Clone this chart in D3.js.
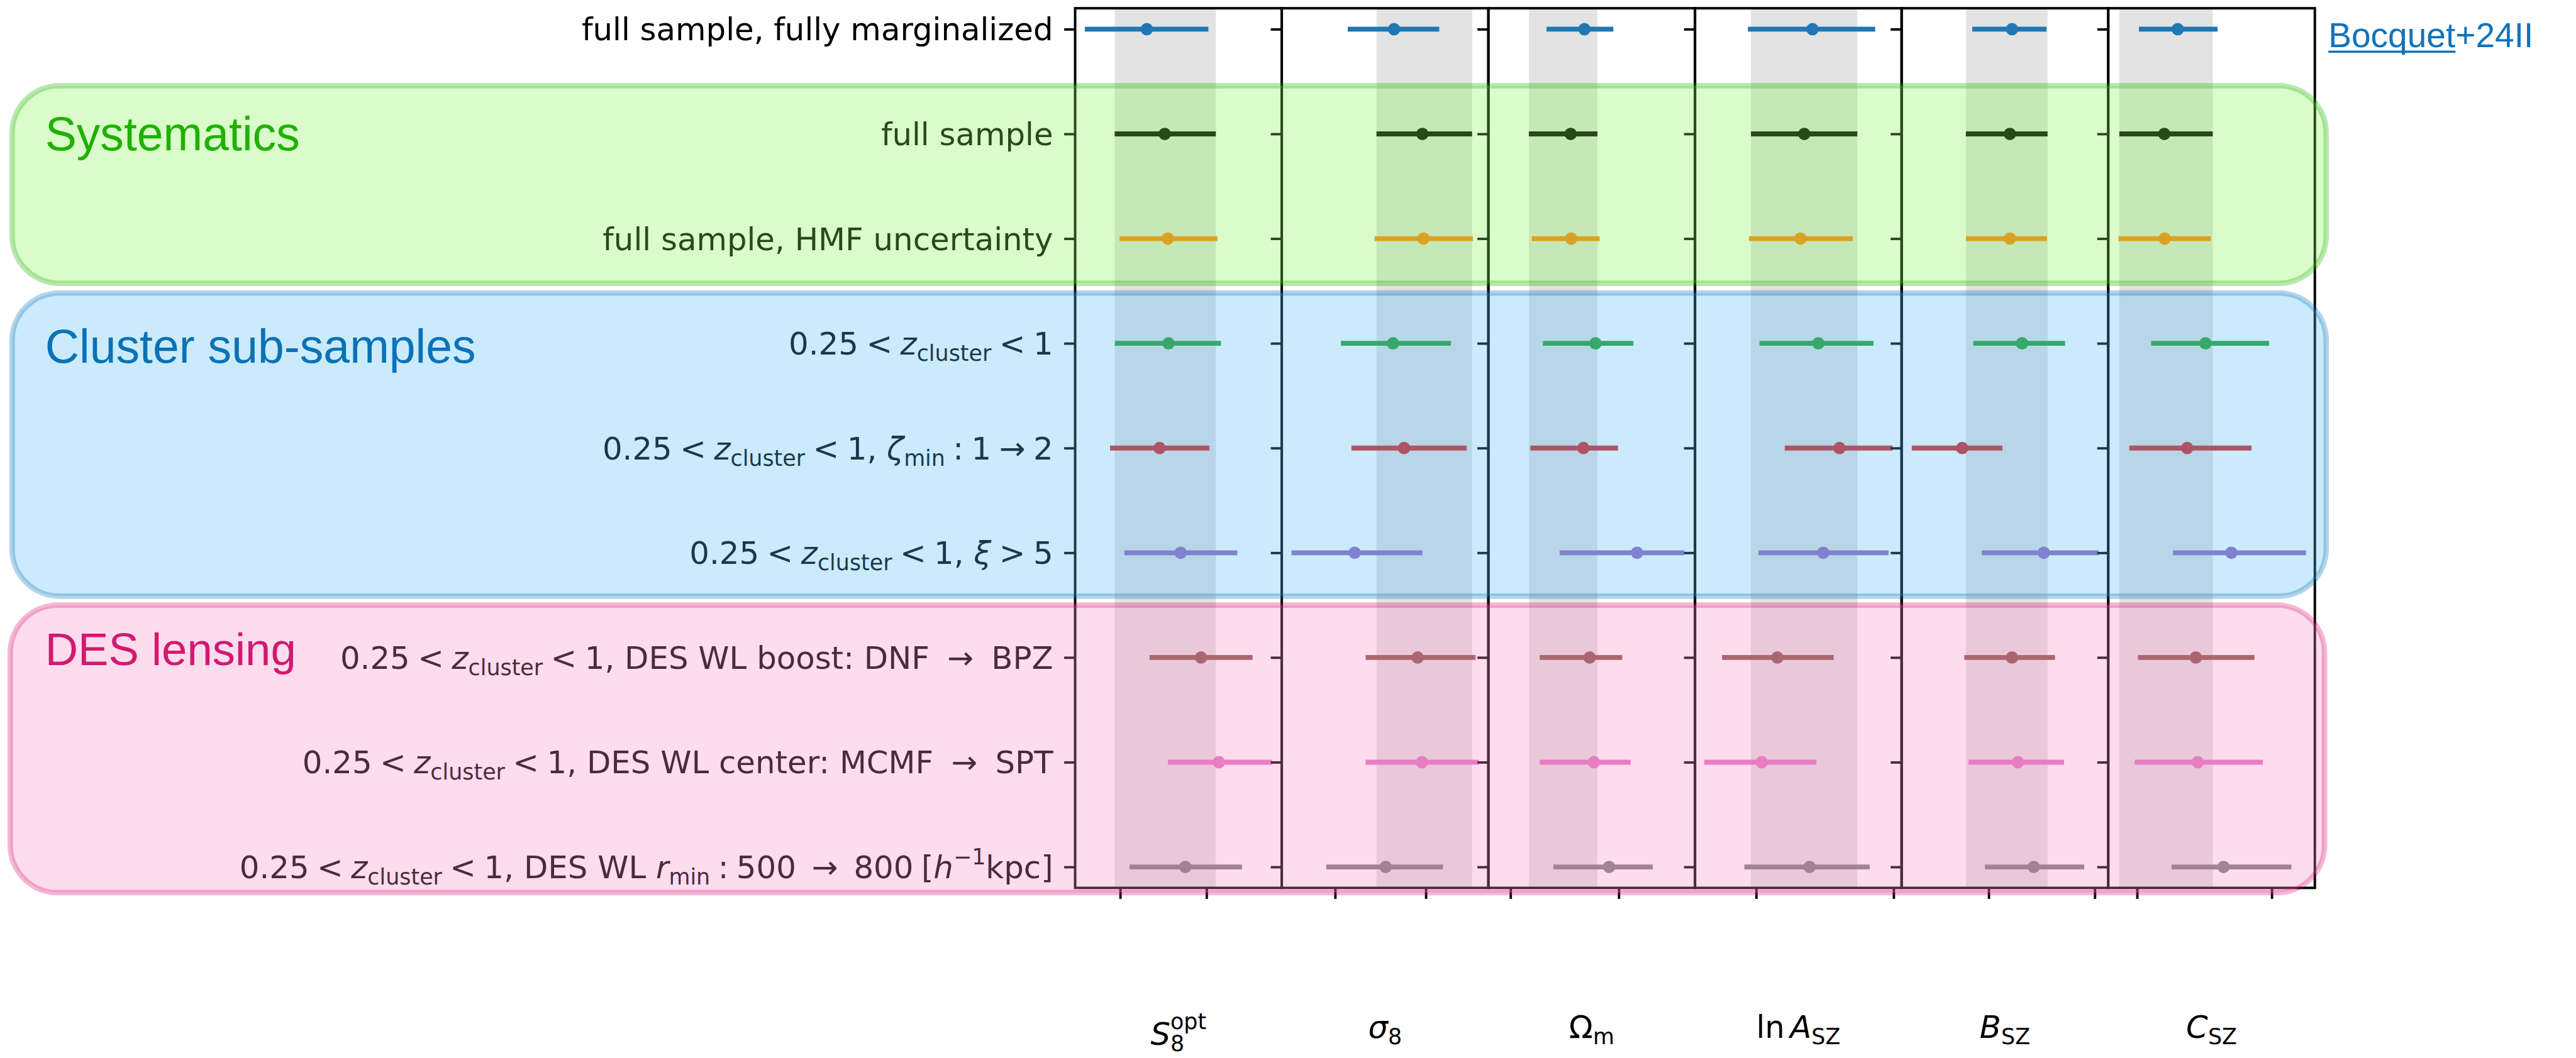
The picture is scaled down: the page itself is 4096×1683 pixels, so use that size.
<!DOCTYPE html>
<html>
<head>
<meta charset="utf-8">
<script src="https://cdn.jsdelivr.net/npm/d3@7"></script>
<style>
  html, body { margin: 0; padding: 0; background: #fff; }
  svg { display: block; }
</style>
</head>
<body>
<script>
// ---- data -------------------------------------------------------------
// one row per analysis variant, top to bottom
const rowColors = ["#1f77b4", "#000000", "#ff7f0e", "#2ca02c", "#d62728",
                   "#9467bd", "#8c564b", "#e377c2", "#7f7f7f"];

// each entry: [lower 68% bound, best fit, upper 68% bound]
const S8opt = [[0.7295, 0.7654, 0.8011], [0.7468, 0.7758, 0.8054], [0.7496, 0.7776, 0.8063],
               [0.7469, 0.7780, 0.8084], [0.7441, 0.7728, 0.8017], [0.7524, 0.7850, 0.8179],
               [0.7670, 0.7968, 0.8267], [0.7776, 0.8072, 0.8380], [0.7554, 0.7877, 0.8206]];
const sigma8 = [[0.7139, 0.7650, 0.8148], [0.7456, 0.7962, 0.8510], [0.7435, 0.7975, 0.8519],
                [0.7064, 0.7638, 0.8276], [0.7180, 0.7760, 0.8450], [0.6519, 0.7215, 0.7962],
                [0.7336, 0.7910, 0.8548], [0.7336, 0.7957, 0.8583], [0.6902, 0.7557, 0.8189]];
const OmegaM = [[0.2333, 0.2683, 0.2950], [0.2170, 0.2556, 0.2803], [0.2197, 0.2561, 0.2823],
                [0.2299, 0.2785, 0.3135], [0.2183, 0.2673, 0.2993], [0.2454, 0.3169, 0.3605],
                [0.2270, 0.2731, 0.3032], [0.2270, 0.2770, 0.3110], [0.2396, 0.2911, 0.3314]];
const lnASZ  = [[1.470, 1.705, 1.933], [1.481, 1.675, 1.868], [1.474, 1.661, 1.851],
                [1.512, 1.726, 1.927], [1.604, 1.803, 1.996], [1.508, 1.744, 1.982],
                [1.376, 1.577, 1.782], [1.311, 1.520, 1.719], [1.457, 1.694, 1.913]];
const BSZ    = [[1.569, 1.644, 1.709], [1.557, 1.640, 1.711], [1.557, 1.640, 1.710],
                [1.571, 1.663, 1.744], [1.455, 1.550, 1.626], [1.587, 1.704, 1.807],
                [1.554, 1.644, 1.725], [1.562, 1.655, 1.742], [1.593, 1.685, 1.780]];
const CSZ    = [[0.507, 0.651, 0.799], [0.434, 0.601, 0.781], [0.431, 0.602, 0.774],
                [0.552, 0.754, 0.990], [0.471, 0.686, 0.925], [0.633, 0.850, 1.127],
                [0.503, 0.718, 0.936], [0.491, 0.725, 0.967], [0.628, 0.821, 1.073]];

const panelData = [S8opt, sigma8, OmegaM, lnASZ, BSZ, CSZ];
const baselineRow = 1;   // "full sample": its 68% interval is shaded in every panel

// axis limits and (unlabelled) tick values per panel
const xDomains = [[0.72389, 0.84360], [0.64115, 0.86897], [0.17959, 0.37040],
                  [1.2774, 2.0292], [1.43585, 1.82538], [0.39286, 1.16000]];
const xTicks = [[0.75, 0.80], [0.7, 0.8], [0.2, 0.3], [1.5, 2.0], [1.6, 1.8], [0.5, 1.0]];

// rich-text pieces: i = italic, sub / sup = sub- and superscript
const SP = "\u2005";
const ARROW = SP + SP + "\u2192" + SP + SP;
const zRange = [{t: "0.25" + SP + "<" + SP}, {t: "z", i: 1}, {t: "cluster", sub: 1}, {t: SP + "<" + SP + "1"}];
const rowLabels = [
  [{t: "full sample, fully marginalized"}],
  [{t: "full sample"}],
  [{t: "full sample, HMF uncertainty"}],
  zRange,
  [...zRange, {t: ", "}, {t: "\u03b6", i: 1}, {t: "min", sub: 1}, {t: SP + ":" + SP + "1" + SP + "\u2192" + SP + "2"}],
  [...zRange, {t: ", "}, {t: "\u03be", i: 1}, {t: SP + ">" + SP + "5"}],
  [...zRange, {t: ", DES WL boost: DNF " + SP + "\u2192" + SP + " BPZ"}],
  [...zRange, {t: ", DES WL center: MCMF " + SP + "\u2192" + SP + " SPT"}],
  [...zRange, {t: ", DES WL "}, {t: "r", i: 1}, {t: "min", sub: 1},
   {t: SP + ":" + SP + "500" + ARROW + "800" + SP + "["}, {t: "h", i: 1}, {t: "\u22121", sup: 1}, {t: "kpc]"}]
];

const columnLabels = [
  [{t: "S", i: 1}, {t: "8", sub: 1, low: 0.2}, {t: "opt", sup: 1, high: 0.5, back: 1}],
  [{t: "\u03c3", i: 1}, {t: "8", sub: 1}],
  [{t: "\u03a9"}, {t: "m", sub: 1}],
  [{t: "ln\u2006"}, {t: "A", i: 1}, {t: "SZ", sub: 1}],
  [{t: "B", i: 1}, {t: "SZ", sub: 1}],
  [{t: "C", i: 1}, {t: "SZ", sub: 1}]
];

// grouped rows: title, title colour, fill colour
const groups = [
  {title: "Systematics",         color: "#1fb100", fill: "#84f552", size: 86},
  {title: "Cluster sub-samples", color: "#0a72b6", fill: "#52bcf8", size: 86},
  {title: "DES lensing",         color: "#d3186f", fill: "#f88ac6", size: 83}
];

// ---- layout -----------------------------------------------------------
const W = 4096, H = 1683, S = 0.874;
const axTop = 15, axBot = 1616, axLeft = 1956, panelW = 375.9;
const fs = 57;            // tick-label / axis-label font size
const tickLen = 20, spineW = 4.5;
const barW = 9, dotR = 11.3;

const svg = d3.select("body").append("svg")
  .attr("width", W).attr("height", H)
  .attr("font-family", "'DejaVu Sans', sans-serif");
svg.append("rect").attr("width", W).attr("height", H).attr("fill", "#fff");
const root = svg.append("g").attr("transform", `scale(${S})`);

const y = d3.scaleLinear().domain([-0.2, 8.2]).range([axTop, axBot]);
const rows = d3.range(rowColors.length);

const defs = root.append("defs");

panelData.forEach((vals, k) => {
  const x0 = axLeft + k * panelW, x1 = x0 + panelW;
  const x = d3.scaleLinear().domain(xDomains[k]).range([x0, x1]);
  const g = root.append("g").attr("class", "panel");

  defs.append("clipPath").attr("id", "clip" + k)
    .append("rect").attr("x", x0).attr("y", axTop).attr("width", panelW).attr("height", axBot - axTop);
  const plot = g.append("g").attr("clip-path", `url(#clip${k})`);

  // baseline 68% interval
  const base = vals[baselineRow];
  plot.append("rect")
    .attr("x", x(base[0])).attr("width", x(base[2]) - x(base[0]))
    .attr("y", axTop).attr("height", axBot - axTop)
    .attr("fill", "#e3e3e3");

  // error bars
  plot.selectAll("line.err").data(rows).join("line")
    .attr("class", "err")
    .attr("x1", i => x(vals[i][0])).attr("x2", i => x(vals[i][2]))
    .attr("y1", i => y(i)).attr("y2", i => y(i))
    .attr("stroke", i => rowColors[i]).attr("stroke-width", barW);
  plot.selectAll("circle.pt").data(rows).join("circle")
    .attr("class", "pt")
    .attr("cx", i => x(vals[i][1])).attr("cy", i => y(i)).attr("r", dotR)
    .attr("fill", i => rowColors[i]);

  // ticks (no tick labels)
  const xa = g.append("g").attr("transform", `translate(0,${axBot})`)
    .call(d3.axisBottom(x).tickValues(xTicks[k]).tickSize(tickLen).tickFormat(""));
  const ya = g.append("g").attr("transform", `translate(${x0},0)`)
    .call(d3.axisLeft(y).tickValues(rows).tickSize(tickLen).tickFormat(""));
  [xa, ya].forEach(a => {
    a.select(".domain").remove();
    a.selectAll("line").attr("stroke", "#000").attr("stroke-width", 4.4);
  });

  // frame
  g.append("rect").attr("x", x0).attr("y", axTop).attr("width", panelW).attr("height", axBot - axTop)
    .attr("fill", "none").attr("stroke", "#000").attr("stroke-width", spineW);
});

// rich text helper
function richText(parent, segs, size) {
  const text = parent.append("text").attr("font-size", size);
  let cur = 0, prev = null;
  segs.forEach(s => {
    const off = s.sub ? (s.low || 0.2) * size : s.sup ? -(s.high || 0.45) * size : 0;
    const ts = text.append("tspan").attr("dy", off - cur).text(s.t);
    if (s.sub || s.sup) ts.attr("font-size", 0.7 * size);
    if (s.i) ts.attr("font-style", "italic");
    if (s.back && prev) ts.attr("dx", -prev.node().getComputedTextLength());
    cur = off;
    prev = ts;
  });
  return text;
}

// row labels
const rowLab = root.append("g").attr("text-anchor", "end").attr("fill", "#000");
rowLabels.forEach((segs, i) => {
  richText(rowLab, segs, fs).attr("x", axLeft - tickLen - 20).attr("y", y(i) + 0.36 * fs);
});

// column labels, top-aligned like each other
const colLab = root.append("g").attr("text-anchor", "middle").attr("fill", "#000");
const colBase = 1889;
const colTexts = columnLabels.map((segs, k) =>
  richText(colLab, segs, fs).attr("x", axLeft + (k + 0.5) * panelW).attr("y", colBase));
const topRef = colTexts[4].node().getBBox().y;
colTexts.forEach(t => {
  const dy = topRef - t.node().getBBox().y;
  t.attr("y", colBase + dy);
});

// translucent group boxes drawn over the rows they enclose
const boxes = [
  {x: 22, y: 156, w: 4210, h: 359.6},
  {x: 22, y: 533.3, w: 4210, h: 551.7},
  {x: 18.7, y: 1101.5, w: 4210.3, h: 523.2}
];
const titleBase = [273, 660, 1211];
groups.forEach((gr, j) => {
  const b = boxes[j];
  root.append("rect")
    .attr("x", b.x).attr("y", b.y).attr("width", b.w).attr("height", b.h)
    .attr("rx", 86).attr("ry", 86)
    .attr("fill", gr.fill).attr("fill-opacity", 0.3)
    .attr("stroke", gr.color).attr("stroke-opacity", 0.3).attr("stroke-width", 10);
});
groups.forEach((gr, j) => {
  root.append("text")
    .attr("x", 82).attr("y", titleBase[j])
    .attr("font-family", "'Liberation Sans', Arial, sans-serif")
    .attr("font-size", gr.size).attr("fill", gr.color)
    .text(gr.title);
});

// reference tag with underlined author name
const ref = root.append("text")
  .attr("x", 4236).attr("y", 86)
  .attr("font-family", "'Liberation Sans', Arial, sans-serif")
  .attr("font-size", 63).attr("fill", "#1273ba");
const author = ref.append("tspan").text("Bocquet");
ref.append("tspan").text("+24II");
const uLen = author.node().getComputedTextLength();
root.append("line")
  .attr("x1", 4236).attr("x2", 4236 + uLen)
  .attr("y1", 94).attr("y2", 94)
  .attr("stroke", "#1273ba").attr("stroke-width", 4);
</script>
</body>
</html>
